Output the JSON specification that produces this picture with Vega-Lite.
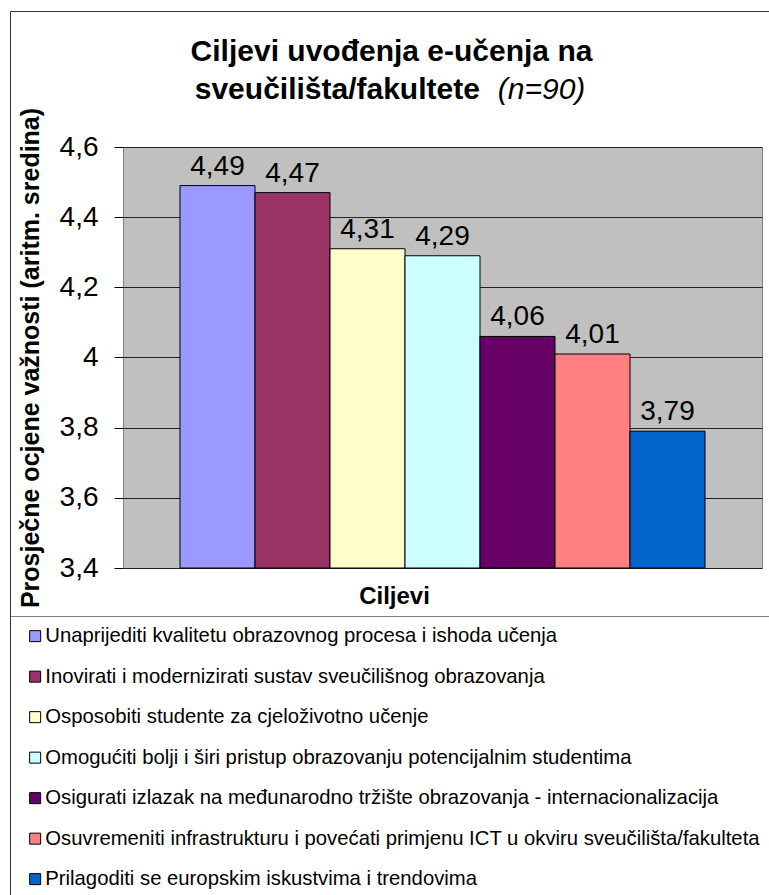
{
  "$schema": "https://vega.github.io/schema/vega-lite/v6.json",
  "autosize": {"type": "none"},
  "width": 639,
  "height": 421,
  "padding": {"left": 123, "top": 147, "right": 7, "bottom": 327},
  "background": "white",
  "title": {
    "text": ["Ciljevi uvođenja e-učenja na", "sveučilišta/fakultete\u00a0\u00a0\u00a0\u00a0\u00a0\u00a0\u00a0\u00a0\u00a0\u00a0\u00a0\u00a0\u00a0\u200b"],
    "subtitle": "\u200b\u00a0\u00a0\u00a0\u00a0\u00a0\u00a0\u00a0\u00a0\u00a0\u00a0\u00a0\u00a0\u00a0\u00a0\u00a0\u00a0\u00a0\u00a0\u00a0\u00a0\u00a0\u00a0\u00a0\u00a0\u00a0\u00a0\u00a0\u00a0\u00a0\u00a0\u00a0\u00a0\u00a0\u00a0\u00a0\u00a0(n=90)",
    "font": "Liberation Sans",
    "fontSize": 30,
    "fontWeight": "bold",
    "color": "black",
    "lineHeight": 38,
    "subtitleFont": "Liberation Sans",
    "subtitleFontSize": 30,
    "subtitleFontStyle": "italic",
    "subtitleFontWeight": "normal",
    "subtitleColor": "black",
    "subtitleLineHeight": 38,
    "subtitlePadding": -30,
    "anchor": "middle",
    "frame": "group",
    "dx": -51,
    "offset": -94
  },
  "data": {
    "values": [
      {"cilj": "Unaprijediti kvalitetu obrazovnog procesa i ishoda učenja", "vrijednost": 4.49},
      {"cilj": "Inovirati i modernizirati sustav sveučilišnog obrazovanja", "vrijednost": 4.47},
      {"cilj": "Osposobiti studente za cjeloživotno učenje", "vrijednost": 4.31},
      {"cilj": "Omogućiti bolji i širi pristup obrazovanju potencijalnim studentima", "vrijednost": 4.29},
      {"cilj": "Osigurati izlazak na međunarodno tržište obrazovanja - internacionalizacija", "vrijednost": 4.06},
      {"cilj": "Osuvremeniti infrastrukturu i povećati primjenu ICT u okviru sveučilišta/fakulteta", "vrijednost": 4.01},
      {"cilj": "Prilagoditi se europskim iskustvima i trendovima", "vrijednost": 3.79}
    ]
  },
  "encoding": {
    "x": {
      "field": "cilj",
      "type": "nominal",
      "sort": null,
      "scale": {"paddingInner": 0, "paddingOuter": 0.76},
      "axis": {
        "labels": false,
        "ticks": false,
        "domain": false,
        "title": "Ciljevi",
        "titleFont": "Liberation Sans",
        "titleFontSize": 24,
        "titleFontWeight": "bold",
        "titleColor": "black",
        "titleX": 271,
        "titleY": 35,
        "titleBaseline": "alphabetic",
        "titleAnchor": "middle",
        "titleAlign": "center"
      }
    },
    "y": {
      "field": "vrijednost",
      "type": "quantitative",
      "scale": {"domain": [3.4, 4.6], "zero": false, "nice": false},
      "axis": {
        "values": [3.4, 3.6, 3.8, 4.0, 4.2, 4.4, 4.6],
        "labelExpr": "replace(format(datum.value, '.1~f'), '.', ',')",
        "labelFont": "Liberation Sans",
        "labelFontSize": 28,
        "labelColor": "black",
        "labelPadding": 16,
        "tickSize": 9,
        "tickColor": "black",
        "domain": false,
        "grid": true,
        "gridColor": "#222222",
        "gridWidth": 1,
        "title": "Prosječne ocjene važnosti (aritm. sredina)",
        "titleFont": "Liberation Sans",
        "titleFontSize": 25,
        "titleFontWeight": "bold",
        "titleColor": "black",
        "titleX": -80,
        "titleY": 210.5,
        "titleAngle": -90,
        "titleBaseline": "bottom",
        "titleAlign": "center"
      }
    }
  },
  "layer": [
    {
      "mark": {"type": "bar", "stroke": "black", "strokeWidth": 1},
      "encoding": {
        "y2": {"datum": 3.4},
        "color": {
          "field": "cilj",
          "type": "nominal",
          "scale": {
            "domain": [
              "Unaprijediti kvalitetu obrazovnog procesa i ishoda učenja",
              "Inovirati i modernizirati sustav sveučilišnog obrazovanja",
              "Osposobiti studente za cjeloživotno učenje",
              "Omogućiti bolji i širi pristup obrazovanju potencijalnim studentima",
              "Osigurati izlazak na međunarodno tržište obrazovanja - internacionalizacija",
              "Osuvremeniti infrastrukturu i povećati primjenu ICT u okviru sveučilišta/fakulteta",
              "Prilagoditi se europskim iskustvima i trendovima"
            ],
            "range": ["#9999FF", "#993366", "#FFFFCC", "#CCFFFF", "#660066", "#FF8080", "#0066CC"]
          },
          "legend": {
            "orient": "none",
            "legendX": -113,
            "legendY": 469,
            "title": null,
            "direction": "vertical",
            "symbolType": "square",
            "symbolSize": 121,
            "symbolStrokeColor": "black",
            "symbolStrokeWidth": 1,
            "symbolOpacity": 1,
            "symbolOffset": 5,
            "labelFont": "Liberation Sans",
            "labelFontSize": 20.3,
            "labelColor": "black",
            "labelOffset": 0,
            "labelLimit": 900,
            "rowPadding": 19.5,
            "padding": 10,
            "strokeColor": "#808080"
          }
        }
      }
    },
    {
      "mark": {
        "type": "text",
        "font": "Liberation Sans",
        "fontSize": 28,
        "color": "black",
        "baseline": "alphabetic",
        "dy": -11,
        "text": {"expr": "replace(format(datum.vrijednost, '.2f'), '.', ',')"}
      },
      "encoding": {
        "opacity": {
          "datum": "okvir",
          "type": "nominal",
          "scale": {"range": [1]},
          "legend": {
            "orient": "none",
            "legendX": -113,
            "legendY": -136,
            "title": null,
            "padding": 460,
            "symbolSize": 0,
            "symbolStrokeWidth": 0,
            "symbolFillColor": "transparent",
            "symbolStrokeColor": "transparent",
            "labelOpacity": 0,
            "strokeColor": "#333333"
          }
        }
      }
    }
  ],
  "config": {
    "view": {"fill": "#C0C0C0", "stroke": "#808080", "strokeWidth": 1}
  }
}
